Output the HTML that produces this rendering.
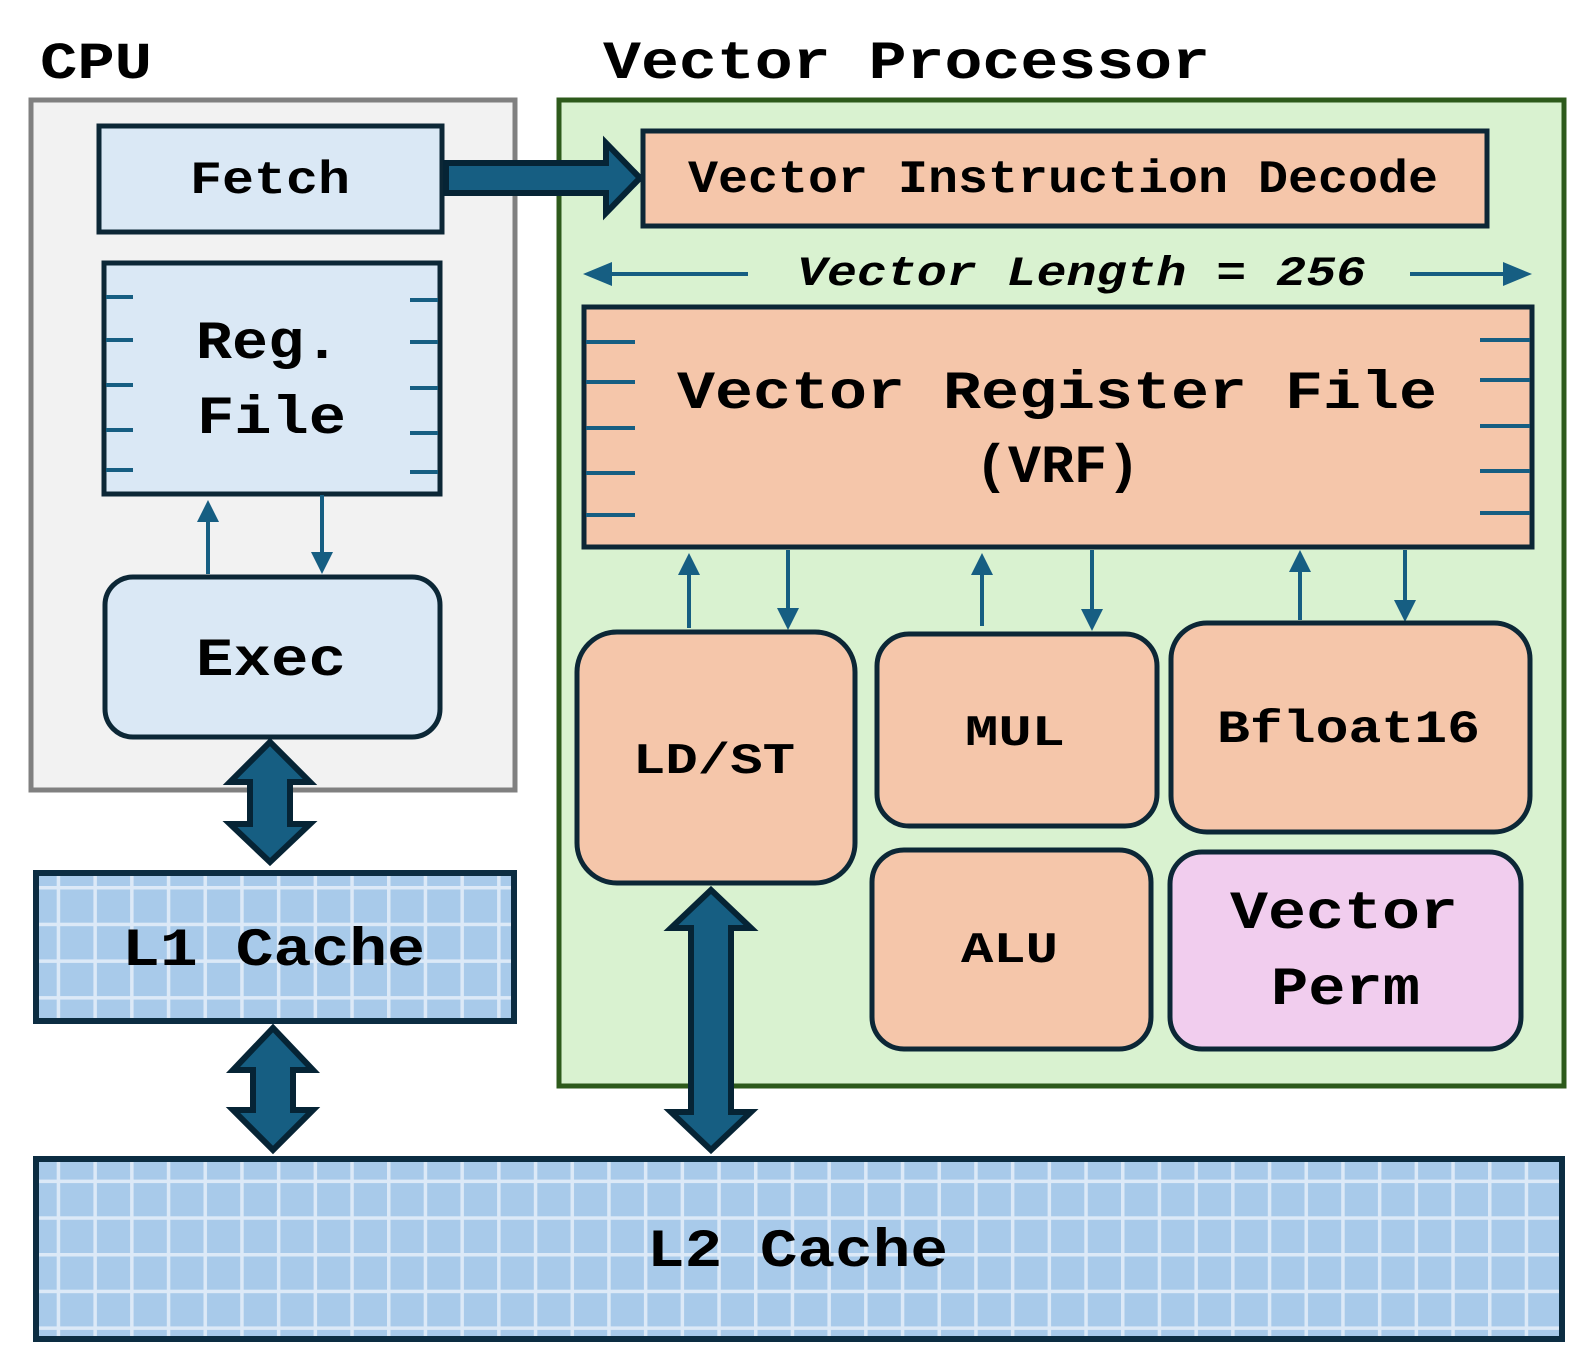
<!DOCTYPE html>
<html><head><meta charset="utf-8"><style>
html,body{margin:0;padding:0;background:#fff;overflow:hidden;width:1585px;height:1361px}
svg{display:block;position:absolute;left:0;top:0}
text{font-family:"Liberation Mono","Courier New",monospace;font-weight:bold;fill:#000}
</style></head><body>
<svg width="1585" height="1361" viewBox="0 0 1585 1361" xmlns="http://www.w3.org/2000/svg">
<defs>
<pattern id="grid" x="20" y="886" width="36.7" height="36.7" patternUnits="userSpaceOnUse">
<rect width="36.7" height="36.7" fill="#a8caea"/>
<rect x="0" y="0" width="3.5" height="36.7" fill="#dce9f7"/>
<rect x="0" y="0" width="36.7" height="3.5" fill="#dce9f7"/>
</pattern>
</defs>

<text x="40" y="78" font-size="52" textLength="112" lengthAdjust="spacingAndGlyphs">CPU</text>
<text x="603" y="78" font-size="54" textLength="607" lengthAdjust="spacingAndGlyphs">Vector Processor</text>

<rect x="31" y="100" width="484" height="690" fill="#f2f2f2" stroke="#808080" stroke-width="5"/>
<rect x="559" y="100" width="1005" height="986" fill="#d9f2d0" stroke="#2d5a1b" stroke-width="5"/>

<rect x="99" y="126" width="343" height="106" fill="#dae8f5" stroke="#0c2736" stroke-width="5"/>
<text x="190" y="193" font-size="46" textLength="160" lengthAdjust="spacingAndGlyphs">Fetch</text>

<path d="M446,163 L606,163 L606,143 L640,178 L606,213 L606,193 L446,193 Z" fill="#165e82" stroke="#062435" stroke-width="6" stroke-linejoin="miter"/>

<rect x="643" y="131" width="844" height="95" fill="#f5c6aa" stroke="#0c2736" stroke-width="5"/>
<text x="688" y="192" font-size="46" textLength="750" lengthAdjust="spacingAndGlyphs">Vector Instruction Decode</text>

<line x1="748" y1="274" x2="596" y2="274" stroke="#165e82" stroke-width="4"/>
<path d="M583,274 L612,262 L612,286 Z" fill="#165e82"/>
<line x1="1410" y1="274" x2="1518" y2="274" stroke="#165e82" stroke-width="4"/>
<path d="M1532,274 L1503,262 L1503,286 Z" fill="#165e82"/>
<text x="797" y="285" font-size="42" font-style="italic" textLength="569" lengthAdjust="spacingAndGlyphs">Vector Length = 256</text>

<rect x="584" y="307" width="948" height="240" fill="#f5c6aa" stroke="#0c2736" stroke-width="5"/>
<g stroke="#165e82" stroke-width="4">
<line x1="586" y1="342" x2="635" y2="342"/><line x1="586" y1="382" x2="635" y2="382"/><line x1="586" y1="428" x2="635" y2="428"/><line x1="586" y1="473" x2="635" y2="473"/><line x1="586" y1="515" x2="635" y2="515"/>
<line x1="1480" y1="340" x2="1530" y2="340"/><line x1="1480" y1="380" x2="1530" y2="380"/><line x1="1480" y1="426" x2="1530" y2="426"/><line x1="1480" y1="471" x2="1530" y2="471"/><line x1="1480" y1="513" x2="1530" y2="513"/>
</g>
<text x="677" y="408" font-size="54" textLength="760" lengthAdjust="spacingAndGlyphs">Vector Register File</text>
<text x="975" y="482" font-size="54" textLength="165" lengthAdjust="spacingAndGlyphs">(VRF)</text>

<rect x="104" y="263" width="336" height="231" fill="#dae8f5" stroke="#0c2736" stroke-width="5"/>
<g stroke="#165e82" stroke-width="4">
<line x1="106" y1="297" x2="133" y2="297"/><line x1="106" y1="340" x2="133" y2="340"/><line x1="106" y1="385" x2="133" y2="385"/><line x1="106" y1="430" x2="133" y2="430"/><line x1="106" y1="470" x2="133" y2="470"/>
<line x1="410" y1="300" x2="438" y2="300"/><line x1="410" y1="342" x2="438" y2="342"/><line x1="410" y1="388" x2="438" y2="388"/><line x1="410" y1="433" x2="438" y2="433"/><line x1="410" y1="472" x2="438" y2="472"/>
</g>
<text x="196" y="358" font-size="54" textLength="144" lengthAdjust="spacingAndGlyphs">Reg.</text>
<text x="197" y="433" font-size="54" textLength="149" lengthAdjust="spacingAndGlyphs">File</text>

<g stroke="#165e82" stroke-width="4" fill="#165e82">
<line x1="208" y1="574" x2="208" y2="515"/><path d="M208,500 L197,522 L219,522 Z" stroke="none"/>
<line x1="322" y1="495" x2="322" y2="555"/><path d="M322,574 L311,552 L333,552 Z" stroke="none"/>
<line x1="689" y1="628" x2="689" y2="568"/><path d="M689,553 L678,575 L700,575 Z" stroke="none"/>
<line x1="788" y1="550" x2="788" y2="612"/><path d="M788,630 L777,608 L799,608 Z" stroke="none"/>
<line x1="982" y1="626" x2="982" y2="568"/><path d="M982,553 L971,575 L993,575 Z" stroke="none"/>
<line x1="1092" y1="550" x2="1092" y2="613"/><path d="M1092,631 L1081,609 L1103,609 Z" stroke="none"/>
<line x1="1300" y1="620" x2="1300" y2="565"/><path d="M1300,550 L1289,572 L1311,572 Z" stroke="none"/>
<line x1="1405" y1="550" x2="1405" y2="604"/><path d="M1405,622 L1394,600 L1416,600 Z" stroke="none"/>
</g>

<rect x="105" y="577" width="335" height="160" rx="28" fill="#dae8f5" stroke="#0c2736" stroke-width="5"/>
<text x="196" y="675" font-size="54" textLength="150" lengthAdjust="spacingAndGlyphs">Exec</text>

<rect x="577" y="632" width="278" height="251" rx="40" fill="#f5c6aa" stroke="#0c2736" stroke-width="5"/>
<text x="633" y="773" font-size="44" textLength="162" lengthAdjust="spacingAndGlyphs">LD/ST</text>
<rect x="877" y="634" width="280" height="192" rx="32" fill="#f5c6aa" stroke="#0c2736" stroke-width="5"/>
<text x="965" y="745" font-size="44" textLength="100" lengthAdjust="spacingAndGlyphs">MUL</text>
<rect x="1171" y="623" width="359" height="209" rx="36" fill="#f5c6aa" stroke="#0c2736" stroke-width="5"/>
<text x="1217" y="742" font-size="46" textLength="263" lengthAdjust="spacingAndGlyphs">Bfloat16</text>
<rect x="872" y="850" width="279" height="199" rx="32" fill="#f5c6aa" stroke="#0c2736" stroke-width="5"/>
<text x="961" y="962" font-size="44" textLength="97" lengthAdjust="spacingAndGlyphs">ALU</text>
<rect x="1170" y="852" width="351" height="197" rx="32" fill="#f1cdee" stroke="#0c2736" stroke-width="5"/>
<text x="1230" y="928" font-size="54" textLength="228" lengthAdjust="spacingAndGlyphs">Vector</text>
<text x="1271" y="1004" font-size="54" textLength="149" lengthAdjust="spacingAndGlyphs">Perm</text>

<rect x="36" y="873" width="478" height="148" fill="url(#grid)" stroke="#0c2d42" stroke-width="6"/>
<text x="122" y="965" font-size="54" textLength="303" lengthAdjust="spacingAndGlyphs">L1 Cache</text>
<rect x="36" y="1159" width="1526" height="180" fill="url(#grid)" stroke="#0c2d42" stroke-width="6"/>
<text x="647" y="1266" font-size="54" textLength="301" lengthAdjust="spacingAndGlyphs">L2 Cache</text>

<g fill="#165e82" stroke="#062435" stroke-width="6" stroke-linejoin="miter">
<path d="M270,742 L310,782 L290,782 L290,824 L310,824 L270,862 L230,824 L250,824 L250,782 L230,782 Z"/>
<path d="M273,1028 L313,1070 L293,1070 L293,1110 L313,1110 L273,1150 L233,1110 L253,1110 L253,1070 L233,1070 Z"/>
<path d="M711,890 L751,928 L731,928 L731,1112 L751,1112 L711,1150 L671,1112 L691,1112 L691,928 L671,928 Z"/>
</g>
</svg>
</body></html>
